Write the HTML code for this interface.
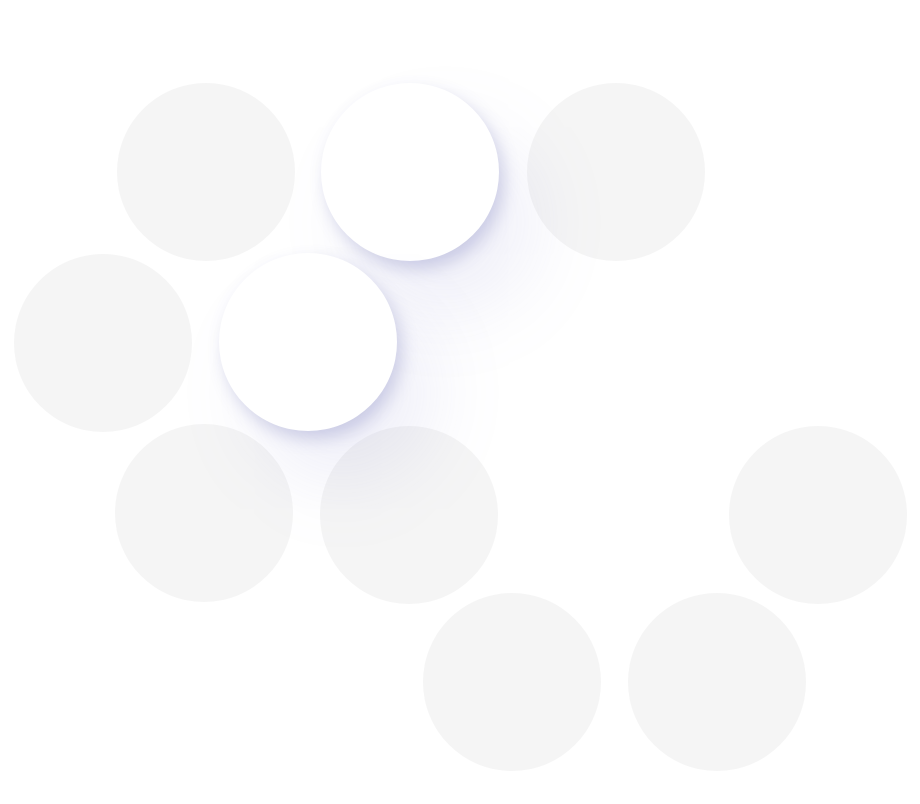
<!DOCTYPE html>
<html><head><meta charset="utf-8"><style>
html,body{margin:0;padding:0;background:#fff;}
body{width:920px;height:804px;position:relative;overflow:hidden;}
.c{position:absolute;width:178px;height:178px;border-radius:50%;background:#f5f5f5;}
.w{background:#fff;box-shadow:5px 8px 16px rgba(90,95,170,0.25),35px 50px 80px rgba(120,125,200,0.13);}
</style></head><body>
<div class="c" style="left:117px;top:83px"></div>
<div class="c" style="left:527px;top:83px"></div>
<div class="c" style="left:14px;top:254px"></div>
<div class="c" style="left:115px;top:424px"></div>
<div class="c" style="left:320px;top:426px"></div>
<div class="c" style="left:729px;top:426px"></div>
<div class="c" style="left:423px;top:593px"></div>
<div class="c" style="left:628px;top:593px"></div>
<div class="c w" style="left:321px;top:83px"></div>
<div class="c w" style="left:219px;top:253px"></div>
</body></html>
